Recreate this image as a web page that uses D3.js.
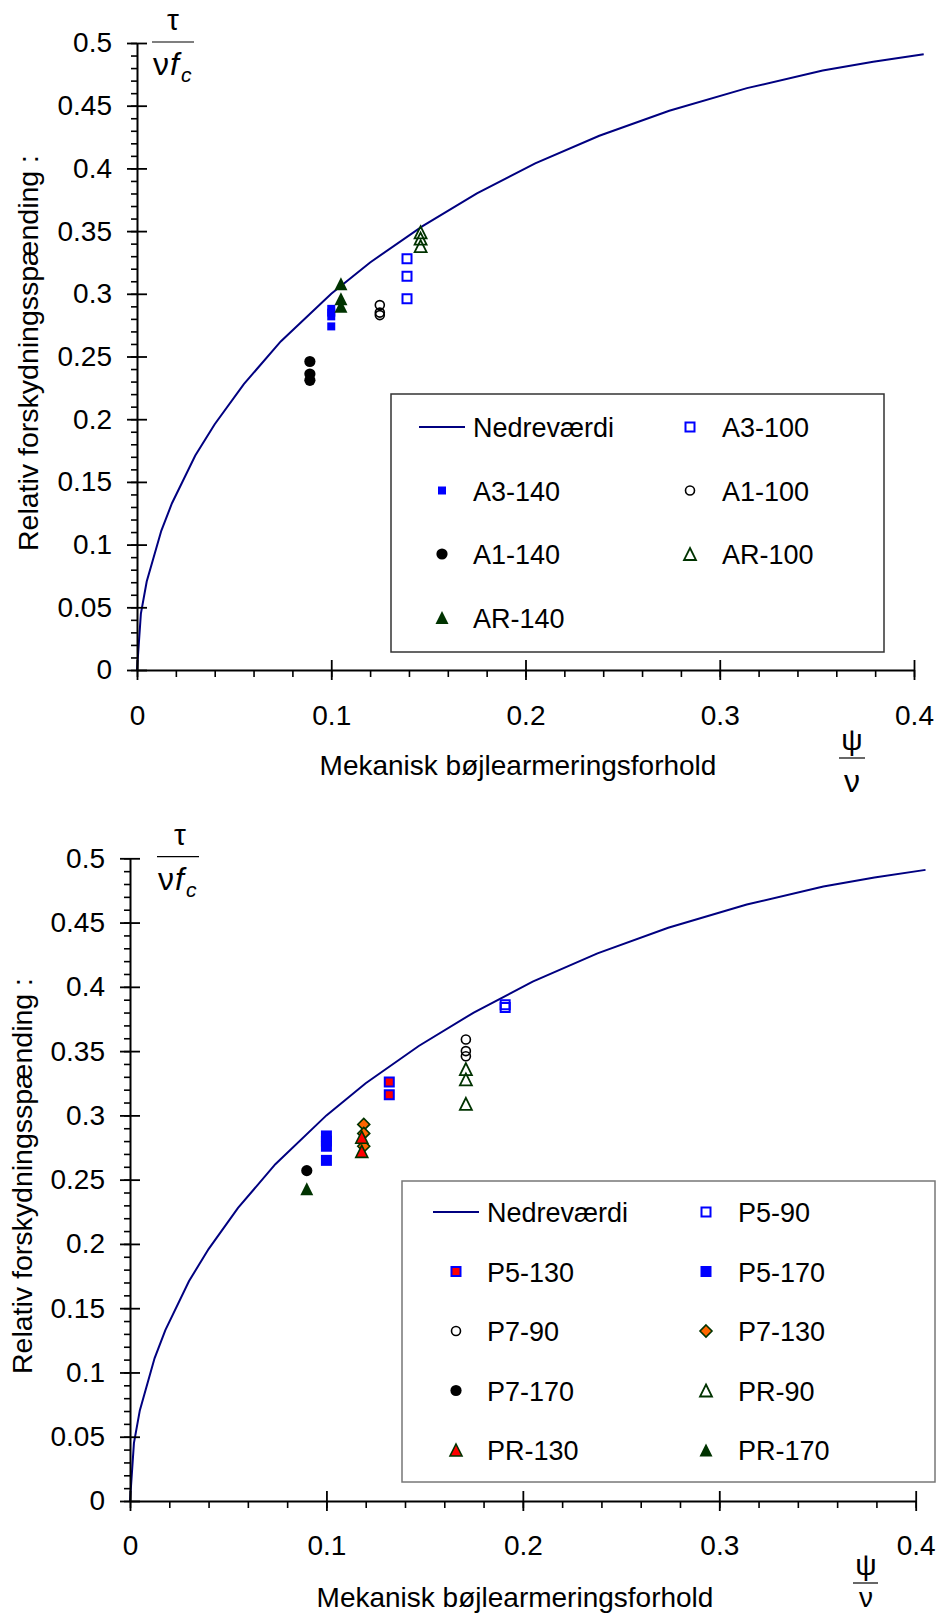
<!DOCTYPE html>
<html><head><meta charset="utf-8">
<script src="https://cdn.jsdelivr.net/npm/d3@7"></script>
<style>
body{margin:0;background:#fff}
svg{display:block}
text{font-family:"Liberation Sans",Arial,sans-serif;fill:#000}
</style>
</head><body>
<svg id="c" width="939" height="1618"></svg>
<script>
// ---------- DATA ----------
// Lower bound curve "Nedreværdi" (vertices)
const curveX = [0, 0.002, 0.005, 0.0125, 0.018, 0.03, 0.04, 0.055, 0.074, 0.1, 0.12, 0.147, 0.175, 0.205, 0.238, 0.274, 0.314, 0.353, 0.379, 0.405];
const curveY = [0, 0.045, 0.0705, 0.111, 0.133, 0.171, 0.196, 0.228, 0.262, 0.3, 0.325, 0.354, 0.38, 0.404, 0.426, 0.446, 0.464, 0.478, 0.485, 0.491];

// Top chart series
const topNames = ["A3-100", "A3-140", "A1-100", "A1-140", "AR-100", "AR-140"];
const topX = [0.139, 0.1, 0.125, 0.089, 0.146, 0.105];
const topY = [
  [0.328, 0.314, 0.296],
  [0.288, 0.285, 0.282, 0.274],
  [0.291, 0.285, 0.283],
  [0.246, 0.236, 0.231],
  [0.349, 0.344, 0.338],
  [0.308, 0.296, 0.29]
];

// Bottom chart series
const botNames = ["P5-90", "P5-130", "P5-170", "P7-90", "P7-130", "P7-170", "PR-90", "PR-130", "PR-170"];
const botX = [0.191, 0.132, 0.1, 0.171, 0.119, 0.09, 0.171, 0.118, 0.09];
const botY = [
  [0.386, 0.384],
  [0.326, 0.316],
  [0.284, 0.28, 0.276, 0.265],
  [0.359, 0.350, 0.346],
  [0.293, 0.286, 0.276],
  [0.257],
  [0.336, 0.328, 0.309],
  [0.283, 0.272],
  [0.243]
];

const lineName = "Nedreværdi";
const xTicks = [0, 0.1, 0.2, 0.3, 0.4];
const xTickLabels = ["0", "0.1", "0.2", "0.3", "0.4"];
const yTicks = [0, 0.05, 0.1, 0.15, 0.2, 0.25, 0.3, 0.35, 0.4, 0.45, 0.5];
const yTickLabels = ["0", "0.05", "0.1", "0.15", "0.2", "0.25", "0.3", "0.35", "0.4", "0.45", "0.5"];
const xTitle = "Mekanisk bøjlearmeringsforhold";
const yTitle = "Relativ forskydningsspænding :";

// ---------- STYLES ----------
const sqT = {draw(c, s){const r = Math.sqrt(s)/2; c.rect(-r, -r, 2*r, 2*r);}};
const triT = {draw(c, s){const a = Math.sqrt(s); c.moveTo(0, -a/2); c.lineTo(a/2, a/2); c.lineTo(-a/2, a/2); c.closePath();}};
const diaT = {draw(c, s){const r = Math.sqrt(s)/2; c.moveTo(0, -r); c.lineTo(r, 0); c.lineTo(0, r); c.lineTo(-r, 0); c.closePath();}};
const cirT = d3.symbolCircle;
const DG = "#003300", BL = "#0000ff";
const styles = {
  "A3-100": {t: sqT, s: 81, f: "none", st: BL, w: 2},
  "A3-140": {t: sqT, s: 64, f: BL, st: "none", w: 0},
  "A1-100": {t: cirT, s: Math.PI*4.5*4.5, f: "none", st: "#000", w: 1.6},
  "A1-140": {t: cirT, s: Math.PI*5.6*5.6, f: "#000", st: "none", w: 0},
  "AR-100": {t: triT, s: 144, f: "none", st: DG, w: 1.8},
  "AR-140": {t: triT, s: 169, f: DG, st: "none", w: 0},
  "P5-90": {t: sqT, s: 81, f: "none", st: BL, w: 2},
  "P5-130": {t: sqT, s: 81, f: "#ff0000", st: BL, w: 2},
  "P5-170": {t: sqT, s: 121, f: BL, st: "none", w: 0},
  "P7-90": {t: cirT, s: Math.PI*4.5*4.5, f: "none", st: "#000", w: 1.6},
  "P7-130": {t: diaT, s: 144, f: "#ff6600", st: DG, w: 1.6},
  "P7-170": {t: cirT, s: Math.PI*5.6*5.6, f: "#000", st: "none", w: 0},
  "PR-90": {t: triT, s: 144, f: "none", st: DG, w: 1.8},
  "PR-130": {t: triT, s: 144, f: "#ff0000", st: DG, w: 1.6},
  "PR-170": {t: triT, s: 169, f: DG, st: "none", w: 0}
};

const svg = d3.select("#c");
const FONT = "'Liberation Sans', Arial, sans-serif";
const SERIF = "'Liberation Serif', 'Times New Roman', serif";

function drawChart(cfg) {
  const x = d3.scaleLinear().domain([0, 0.4]).range([cfg.x0, cfg.x1]);
  const y = d3.scaleLinear().domain([0, 0.5]).range([cfg.y0, cfg.y1]);
  const g = svg.append("g");

  // Legend box (behind data)
  const L = cfg.legend;
  g.append("rect").attr("x", L.x).attr("y", L.y).attr("width", L.w).attr("height", L.h)
    .attr("fill", "#fff").attr("stroke", L.stroke).attr("stroke-width", 1.5);
  const entries = [lineName].concat(cfg.names);
  entries.forEach((n, i) => {
    const col = i % 2, row = Math.floor(i / 2);
    const cy = L.row0 + row * L.dy;
    const mx = col === 0 ? L.m1 : L.m2;
    const tx = col === 0 ? L.t1 : L.t2;
    if (n === lineName) {
      g.append("line").attr("x1", mx - 23).attr("x2", mx + 23).attr("y1", cy).attr("y2", cy)
        .attr("stroke", "#000080").attr("stroke-width", 2);
    } else {
      const st = styles[n];
      g.append("path").attr("d", d3.symbol(st.t, st.s)()).attr("transform", `translate(${mx},${cy})`)
        .attr("fill", st.f).attr("stroke", st.st).attr("stroke-width", st.w);
    }
    g.append("text").attr("x", tx).attr("y", cy + 10).attr("font-size", 27).text(n);
  });

  // Curve
  const line = d3.line().x(d => x(d[0])).y(d => y(d[1]));
  g.append("path").datum(d3.zip(curveX, curveY)).attr("d", line)
    .attr("fill", "none").attr("stroke", "#000080").attr("stroke-width", 2);

  // Markers
  cfg.names.forEach((n, i) => {
    const st = styles[n];
    g.append("g").selectAll("path").data(cfg.ys[i]).join("path")
      .attr("d", d3.symbol(st.t, st.s)())
      .attr("transform", d => `translate(${x(cfg.xs[i])},${y(d)})`)
      .attr("fill", st.f).attr("stroke", st.st).attr("stroke-width", st.w);
  });

  // Y axis minor ticks
  const yMinor = d3.range(0, 0.5001, 0.01).map(v => +v.toFixed(2));
  const ym = g.append("g").attr("transform", `translate(${cfg.x0},0)`)
    .call(d3.axisLeft(y).tickValues(yMinor).tickSize(6).tickFormat(""));
  ym.select(".domain").remove();
  ym.selectAll(".tick line").attr("stroke", "#000").attr("stroke-width", 1.6);
  // Y axis major
  const ya = g.append("g").attr("transform", `translate(${cfg.x0},0)`)
    .call(d3.axisLeft(y).tickValues(yTicks).tickSize(10).tickSizeOuter(0).tickPadding(15)
      .tickFormat((d, i) => yTickLabels[i]));
  ya.select(".domain").attr("stroke", "#000").attr("stroke-width", 2);
  ya.selectAll(".tick line").attr("x1", 10).attr("stroke", "#000").attr("stroke-width", 1.8);
  ya.selectAll(".tick text").attr("font-size", 28).attr("font-family", FONT).attr("fill", "#000");

  // X axis minor ticks
  const xMinor = d3.range(0, 0.4001, 0.02).map(v => +v.toFixed(2));
  const xm = g.append("g").attr("transform", `translate(0,${cfg.y0})`)
    .call(d3.axisBottom(x).tickValues(xMinor).tickSize(7).tickFormat(""));
  xm.select(".domain").remove();
  xm.selectAll(".tick line").attr("stroke", "#000").attr("stroke-width", 1.6);
  const xa = g.append("g").attr("transform", `translate(0,${cfg.y0})`)
    .call(d3.axisBottom(x).tickValues(xTicks).tickSize(10).tickSizeOuter(0).tickPadding(cfg.xPad)
      .tickFormat((d, i) => xTickLabels[i]));
  xa.select(".domain").attr("stroke", "#000").attr("stroke-width", 2);
  xa.selectAll(".tick line").attr("y1", -10).attr("stroke", "#000").attr("stroke-width", 1.8);
  xa.selectAll(".tick text").attr("font-size", 28).attr("font-family", FONT).attr("fill", "#000");

  // Axis titles
  g.append("text").attr("x", cfg.xtX).attr("y", cfg.xtY).attr("text-anchor", "middle")
    .attr("font-size", 28).text(xTitle);
  g.append("text").attr("transform", `translate(${cfg.ytX},${cfg.ytY}) rotate(-90)`)
    .attr("text-anchor", "middle").attr("font-size", 28.5).text(yTitle);

  // tau / (nu f_c)
  const F = cfg.frac;
  g.append("text").attr("x", F.cx).attr("y", F.tauY).attr("text-anchor", "middle")
    .attr("font-family", SERIF).attr("font-size", 30).text("τ");
  g.append("line").attr("x1", F.lx0).attr("x2", F.lx1).attr("y1", F.ly).attr("y2", F.ly)
    .attr("stroke", "#000").attr("stroke-width", 1.2);
  const den = g.append("text").attr("x", F.nx).attr("y", F.nuY).attr("font-family", SERIF).attr("font-size", 32);
  den.append("tspan").text("ν");
  den.append("tspan").attr("font-style", "italic").attr("dx", 1).text("f");
  den.append("tspan").attr("font-style", "italic").attr("font-size", 21).attr("dx", 2).attr("dy", 7).text("c");

  // psi / nu
  const P = cfg.psi;
  g.append("text").attr("x", P.cx).attr("y", P.psiY).attr("text-anchor", "middle")
    .attr("font-family", SERIF).attr("font-size", 30).text("ψ");
  g.append("line").attr("x1", P.lx0).attr("x2", P.lx1).attr("y1", P.ly).attr("y2", P.ly)
    .attr("stroke", "#000").attr("stroke-width", 1.2);
  g.append("text").attr("x", P.cx).attr("y", P.nuY).attr("text-anchor", "middle")
    .attr("font-family", SERIF).attr("font-size", P.nuSize).text("ν");
}

drawChart({
  x0: 137, x1: 914, y0: 670, y1: 43, xPad: 25,
  names: topNames, xs: topX, ys: topY,
  legend: {x: 391, y: 394, w: 493, h: 258, stroke: "#333", row0: 427, dy: 63.5, m1: 442, t1: 473, m2: 690, t2: 722},
  xtX: 518, xtY: 775, ytX: 37.5, ytY: 353,
  frac: {cx: 173, tauY: 30, lx0: 152, lx1: 194, ly: 42, nx: 153, nuY: 75},
  psi: {cx: 852, psiY: 750, lx0: 839, lx1: 865, ly: 758, nuY: 792, nuSize: 32}
});

drawChart({
  x0: 130, x1: 915.7, y0: 1501, y1: 858.3, xPad: 24,
  names: botNames, xs: botX, ys: botY,
  legend: {x: 402, y: 1181, w: 533, h: 301, stroke: "#777", row0: 1212, dy: 59.5, m1: 456, t1: 487, m2: 706, t2: 738},
  xtX: 515, xtY: 1607, ytX: 31.7, ytY: 1176,
  frac: {cx: 180, tauY: 845, lx0: 157, lx1: 199, ly: 856.7, nx: 158, nuY: 890},
  psi: {cx: 866, psiY: 1575, lx0: 853, lx1: 878, ly: 1583, nuY: 1607, nuSize: 28}
});
</script>
</body></html>
